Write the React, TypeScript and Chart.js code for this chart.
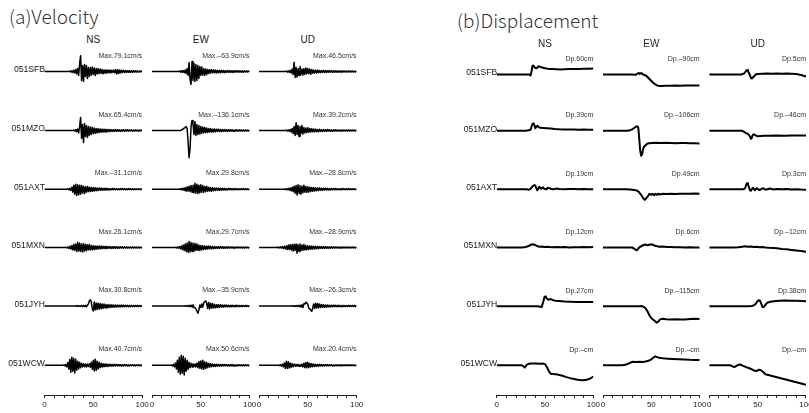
import React, { useEffect, useRef } from "react";
import { Chart, registerables } from "chart.js";
Chart.register(...registerables);

// ---------- labels ----------
const STATIONS = ["051SFB", "051MZO", "051AXT", "051MXN", "051JYH", "051WCW"];
const COMPONENTS = ["NS", "EW", "UD"];
const AXIS_TICKS = [0, 50, 100];

// peak velocity (cm/s) shown above each velocity trace
const VEL_PEAK = [
  [79.1, -63.9, 46.5],
  [65.4, -136.1, 39.2],
  [-31.1, 29.8, -28.8],
  [26.1, 29.7, -28.9],
  [30.8, -35.9, -26.3],
  [40.7, 50.6, 20.4],
];
// displacement (cm) shown above each displacement trace (null = "–")
const DSP_PEAK: (number | null)[][] = [
  [60, -90, 5],
  [39, -106, -46],
  [19, 49, 3],
  [12, 6, -12],
  [27, -115, 38],
  [null, null, null],
];

// ---------- velocity traces (cm/s), 1 s samples starting at onset (s) ----------
const VEL_ONSET = [
  [26, 28, 28],
  [30, 30, 28],
  [24, 28, 26],
  [22, 24, 18],
  [32, 34, 34],
  [20, 20, 20],
];
const VEL_SFB_NS = [2,-3,4,-5,6,-8,10,-12,15,-20, 40,79.1,-45,30,-50,35,-25,30,-35,20, -25,20,-18,22,-15,18,-20,15,-12,14, -10,12,-9,10,-12,8,-7,9,-8,7, -6,8,-7,6,-5,7,-6,10,-12,9, -10,8,-7,6,-5,6,-5,4,-5,4, -4,5,-4,3,-4,4,-3,4,-3,3, -3,3,-2,3,-2];
const VEL_SFB_EW = [2,-3,4,-4,5,-6,8,-10,15,-20, 45,-40,-63.9,50,-45,40,-50,35,-45,30, -35,25,-20,22,-18,15,-20,12,-15,10, -10,9,-8,10,-7,8,-6,7,-8,6, -6,5,-7,6,-5,5,-6,4,-5,5, -4,5,-4,4,-5,3,-4,4,-3,4, -3,4,-3,3,-4,3,-3,3,-2,3, -2,2,-2];
const VEL_SFB_UD = [2,-3,3,-4,6,-8,12,-15,46.5,-30, 20,-28,15,-20,25,-15,12,-18,14,-15, 18,-12,15,-10,12,-14,10,-9,8,-8, 6,-7,8,-6,5,-6,5,-4,6,-5, 4,-5,4,-4,5,-3,4,-4,3,-4, 4,-3,3,-4,3,-3,4,-3,3,-2, 3,-3,2,-3,3,-2,3,-2,2,-3, 2,-2,2];
const VEL_MZO_NS = [2,-3,4,-6,8,-12,20,65.4,-40,30, -60,35,-30,25,-35,20,-25,18,-20,15, -15,12,-14,10,-12,9,-10,8,-9,7, -8,6,-7,6,-6,5,-6,5,-5,4, -5,4,-4,5,-4,4,-4,3,-4,3, -3,4,-3,3,-3,4,-3,3,-2,3, -3,2,-3,3,-2,2,-3,2,-2,2,-2];
const VEL_MZO_EW = [2,5,8,12,15,20,10,-60,-136.1,-90, 20,50,35,-20,45,-25,30,-20,25,-18, 20,-15,18,-12,15,-10,12,-10,10,-8, 9,-8,7,-7,8,-6,6,-5,7,-5, 5,-6,5,-4,5,-4,4,-5,4,-4, 4,-3,4,-4,3,-3,4,-3,3,-3, 3,-3,2,-3,3,-2,2,-3,2,-2,2];
const VEL_MZO_UD = [2,-3,3,-4,5,-8,10,-15,20,-25, 39.2,-20,25,-30,20,-15,25,-18,15,-12, 12,-10,14,-9,10,-8,9,-7,8,-6, 7,-6,5,-6,6,-5,4,-5,5,-4, 4,-4,5,-3,4,-4,3,-4,3,-3, 4,-3,3,-3,2,-3,3,-2,3,-2, 2,-3,2,-2,3,-2,2,-2,2,-2,2,-2,2];
const VEL_AXT_NS = [2,-3,4,-6,10,-15,20,-25,25,-31.1, 22,-28,20,-25,18,-20,15,-22,12,-15, 14,-12,10,-12,9,-10,8,-9,7,-8, 6,-7,6,-5,6,-5,4,-5,4,-4, 4,-4,3,-4,3,-3,4,-3,3,-3, 3,-3,2,-3,3,-2,3,-2,2,-3, 2,-2,3,-2,2,-2,2,-3,2,-2, 2,-2,2,-2,2,-2,2];
const VEL_AXT_EW = [1,-2,3,-4,5,-6,8,-10,12,-10, 15,-12,18,-15,20,-18,29.8,-20,25,-22, 20,-18,22,-15,18,-16,14,-12,15,-10, 10,-9,8,-10,7,-8,6,-7,6,-5, 5,-6,4,-5,5,-4,4,-4,3,-4, 3,-3,4,-3,3,-3,3,-2,3,-3, 2,-3,2,-2,3,-2,2,-2,2,-2,2,-2,2];
const VEL_AXT_UD = [1,-2,2,-3,4,-5,6,-8,10,-12, 15,-20,18,-28.8,22,-20,18,-25,15,-18, 20,-15,14,-16,12,-14,10,-12,9,-10, 8,-9,7,-8,6,-7,6,-5,5,-6, 5,-4,5,-4,4,-4,3,-4,4,-3, 3,-3,4,-3,3,-3,2,-3,3,-2, 3,-2,2,-3,2,-2,3,-2,2,-2, 2,-2,2,-2,2];
const VEL_MXN_NS = [1,-2,3,-4,6,-8,10,-12,15,-14, 18,-20,26.1,-18,22,-20,18,-22,20,-18, 15,-16,14,-12,15,-12,10,-12,9,-10, 8,-9,8,-7,8,-6,7,-6,6,-5, 5,-6,5,-4,5,-4,4,-5,4,-4, 4,-3,4,-4,3,-3,4,-3,3,-3, 3,-2,3,-3,2,-3,2,-2,3,-2, 2,-2,2,-3,2,-2,2,-2,2];
const VEL_MXN_EW = [1,-2,3,-3,4,-6,8,-10,12,-15, 18,-20,22,-25,29.7,-22,25,-20,22,-18, 20,-15,18,-14,12,-15,10,-12,9,-10, 8,-9,7,-8,8,-6,6,-7,5,-6, 5,-5,4,-5,4,-4,5,-3,4,-4, 3,-4,3,-3,4,-3,3,-2,3,-3, 2,-3,2,-2,3,-2,2,-2,2,-3, 2,-2,2,-2,2,-2,2];
const VEL_MXN_UD = [1,-1,2,-2,3,-3,4,-5,6,-8, 8,-10,12,-10,14,-12,15,-18,16,-14, 18,-28.9,15,-20,18,-15,12,-14,15,-12, 10,-12,9,-10,8,-9,7,-8,6,-7, 6,-6,5,-6,5,-4,5,-5,4,-4, 4,-4,3,-4,3,-3,4,-3,3,-3, 3,-2,3,-3,2,-3,2,-2,3,-2, 2,-2,3,-2,2,-2,2,-2,2,-2,2,-2,2];
const VEL_JYH_NS = [1,-1,2,-2,1,-2,2,-3,3,-2, 3,-4,5,10,25,30.8,20,-15,-25,20, -20,15,-18,14,-15,12,-14,10,-12,10, -9,8,-10,7,-8,6,-7,6,-6,5, -6,5,-5,4,-5,4,-4,5,-4,4, -3,4,-3,3,-4,3,-3,3,-3,2, -3,2,-2,3,-2,2,-2,2,-2];
const VEL_JYH_EW = [1,-1,2,-2,3,-3,4,-5,6,-8, -8,-15,-25,-35.9,-20,5,-8,10,-6,15, 22,25,15,-12,18,-15,14,-10,12,-10, 8,-9,7,-8,6,-7,6,-5,5,-6, 5,-4,5,-4,4,-4,3,-4,4,-3, 3,-3,4,-3,3,-3,2,-3,3,-2, 2,-2,3,-2,2,-2,2];
const VEL_JYH_UD = [1,-1,1,-2,2,-2,3,-3,4,-5, 6,-8,12,10,18,15,8,-10,-15,-20, -26.3,-12,10,-12,14,-10,12,-9,10,-8, 7,-6,6,-7,5,-6,5,-5,4,-5, 4,-4,4,-3,4,-3,3,-4,3,-3, 3,-2,3,-3,2,-3,2,-2,3,-2, 2,-2,2,-2,3,-2,2];
const VEL_WCW_NS = [2,-3,5,-8,15,-20,30,-35,40.7,-30, 35,-38,30,-25,20,-18,15,-12,10,-8, 8,-7,6,-8,7,-6,8,-10,15,-20, 25,-28,30,-25,20,-18,15,-12,10,-9, 8,-7,6,-6,5,-6,5,-4,5,-4, 4,-4,5,-3,4,-3,4,-3,3,-4, 3,-3,4,-3,3,-3,2,-3,3,-2, 3,-2,3,-3,2,-2,3,-2,2,-2,2];
const VEL_WCW_EW = [2,-3,5,-8,12,-18,25,-35,40,-45, 50.6,-40,45,-48,35,-30,25,-20,15,-12, 10,-8,8,-7,6,-8,10,-12,18,-15, 22,-18,25,-20,18,-15,14,-12,10,-9, 8,-7,6,-6,5,-6,5,-4,5,-4, 4,-4,5,-3,4,-3,4,-3,3,-4, 3,-3,4,-3,3,-3,2,-3,3,-2, 3,-2,3,-3,2,-2,3,-2,2,-2,2];
const VEL_WCW_UD = [1,-2,3,-4,6,-8,12,-15,20.4,-15, 18,-14,12,-10,8,-7,6,-5,5,-4, 4,-5,4,-5,6,-8,10,-12,14,-12, 15,-12,10,-9,8,-7,6,-6,5,-5, 4,-4,5,-3,4,-4,3,-3,4,-3, 3,-3,3,-2,3,-3,2,-3,2,-2, 3,-2,2,-2,3,-2,2,-2,2,-2, 2,-2,2,-2,2,-1,2,-2,1,-2,2];

// ---------- displacement traces (cm), [time s, value] ----------
const DSP_SFB_NS = [[0,0],[34,0],[35,-10],[36,30],[37,85],[38,90],[39,75],[40,65],[41,62],[42,70],[43,80],[44,82],[45,75],[47,70],[50,62],[53,58],[57,55],[62,52],[66,50],[70,52],[75,55],[80,54],[85,56],[90,57],[95,58],[100,60]];
const DSP_SFB_EW = [[0,0],[30,0],[34,-2],[36,12],[37,16],[38,5],[39,12],[40,14],[41,2],[43,-5],[45,-15],[47,-35],[49,-55],[51,-75],[53,-92],[55,-105],[57,-112],[60,-114],[65,-112],[70,-113],[75,-111],[80,-112],[85,-110],[90,-111],[95,-109],[100,-110]];
const DSP_SFB_UD = [[0,0],[33,0],[36,10],[38,35],[39,45],[40,35],[42,-5],[43,-35],[44,-40],[46,-20],[48,0],[50,5],[55,8],[60,10],[65,8],[70,10],[75,8],[80,10],[85,7],[90,5],[95,-5],[100,-20]];
const DSP_MZO_NS = [[0,0],[30,0],[33,5],[35,10],[36,40],[37,70],[38,75],[39,55],[40,25],[41,40],[42,50],[43,40],[45,30],[48,28],[52,25],[56,22],[60,18],[65,15],[70,14],[75,12],[80,12],[85,11],[90,12],[95,10],[100,10]];
const DSP_MZO_EW = [[0,0],[25,0],[28,5],[31,20],[34,40],[35.5,45],[36.5,30],[37.5,-80],[38.5,-200],[39.5,-250],[40.5,-235],[41.5,-180],[42.5,-160],[44,-145],[46,-128],[50,-122],[55,-120],[60,-123],[65,-120],[70,-122],[75,-124],[80,-121],[85,-123],[90,-125],[95,-124],[100,-126]];
const DSP_MZO_UD = [[0,0],[34,0],[36,-10],[38,-25],[40,-30],[42,-55],[43,-80],[44,-70],[45,-40],[46,-35],[48,-45],[50,-55],[53,-52],[57,-50],[62,-50],[70,-48],[78,-50],[85,-47],[92,-48],[100,-46]];
const DSP_AXT_NS = [[0,0],[31,0],[33,-5],[35,5],[37,30],[39,43],[40,35],[41,10],[42,-10],[43,5],[44,25],[45,15],[46,5],[47,15],[48,20],[49,5],[51,0],[52,10],[54,15],[56,5],[58,0],[60,3],[62,8],[65,2],[70,0],[75,3],[80,2],[85,0],[90,2],[95,0],[100,0]];
const DSP_AXT_EW = [[0,0],[24,0],[28,-3],[32,-8],[35,-12],[37,-25],[39,-50],[41,-80],[43,-105],[44,-100],[45,-85],[47,-60],[48,-45],[50,-55],[51,-45],[53,-60],[54,-45],[56,-55],[57,-45],[59,-52],[62,-45],[66,-48],[70,-44],[75,-46],[80,-45],[85,-44],[90,-45],[95,-43],[100,-45]];
const DSP_AXT_UD = [[0,0],[35,0],[37,10],[38,40],[39,60],[40,50],[41,20],[42,-10],[43,-15],[44,0],[45,15],[46,5],[47,-10],[48,0],[49,10],[50,5],[52,-8],[54,5],[56,10],[58,-5],[60,0],[63,8],[66,-3],[70,3],[75,0],[80,2],[85,-2],[90,0],[95,-3],[100,-4]];
const DSP_MXN_NS = [[0,0],[26,0],[30,5],[33,15],[35,25],[37,33],[39,28],[41,18],[43,10],[45,7],[47,10],[49,5],[52,8],[55,5],[58,3],[62,6],[66,2],[70,4],[75,0],[80,3],[85,2],[90,4],[95,3],[100,5]];
const DSP_MXN_EW = [[0,0],[30,0],[32,-10],[34,-25],[35,-28],[36,-15],[38,5],[40,15],[42,25],[44,30],[46,22],[48,28],[50,32],[52,25],[54,18],[56,12],[58,8],[62,10],[66,4],[70,6],[75,2],[80,3],[85,0],[90,2],[95,0],[100,1]];
const DSP_MXN_UD = [[0,0],[25,0],[30,3],[34,8],[37,12],[40,8],[43,10],[46,5],[49,8],[52,2],[55,5],[58,0],[62,-3],[66,-5],[70,-8],[75,-14],[80,-18],[85,-24],[90,-30],[95,-36],[100,-42]];
const DSP_JYH_NS = [[0,0],[42,0],[45,-5],[46.5,-8],[48,40],[49.5,95],[50.5,100],[52,75],[53.5,65],[55,72],[56.5,70],[58,62],[61,55],[65,52],[70,48],[76,46],[82,44],[88,43],[94,42],[100,43]];
const DSP_JYH_EW = [[0,0],[38,0],[40,3],[42,-5],[44,-20],[46,-50],[48,-90],[50,-120],[52,-135],[54,-150],[55.5,-165],[57,-155],[58.5,-135],[60,-128],[62,-125],[65,-130],[70,-132],[75,-130],[80,-133],[85,-132],[90,-128],[95,-125],[100,-127]];
const DSP_JYH_UD = [[0,0],[40,0],[44,3],[47,15],[49,40],[51,60],[52.5,55],[54,20],[55,-8],[56.5,-5],[58,15],[60,35],[63,45],[67,50],[72,55],[78,57],[85,56],[90,55],[95,53],[100,50]];
const DSP_WCW_NS = [[0,0],[26,0],[27.5,-10],[29,-22],[31,5],[33,15],[36,17],[40,17],[45,16],[48,17],[50,12],[52,-20],[54,-60],[56,-85],[58,-88],[61,-90],[64,-95],[68,-105],[72,-118],[76,-128],[80,-137],[84,-145],[88,-150],[92,-148],[96,-135],[100,-112]];
const DSP_WCW_EW = [[0,0],[20,0],[24,8],[28,25],[31,35],[34,33],[38,36],[41,34],[44,38],[47,45],[50,60],[52,75],[54,90],[56,82],[58,75],[62,70],[67,66],[72,63],[78,60],[84,58],[90,55],[95,54],[100,53]];
const DSP_WCW_UD = [[0,0],[22,0],[24,-10],[26,-18],[28,-5],[30,5],[32,8],[35,-5],[40,-25],[44,-40],[47,-55],[49,-58],[51,-45],[53,-47],[56,-70],[58,-90],[62,-100],[68,-115],[74,-130],[80,-145],[86,-160],[92,-175],[96,-185],[100,-195]];

const VEL_TRACES = [
  [VEL_SFB_NS, VEL_SFB_EW, VEL_SFB_UD],
  [VEL_MZO_NS, VEL_MZO_EW, VEL_MZO_UD],
  [VEL_AXT_NS, VEL_AXT_EW, VEL_AXT_UD],
  [VEL_MXN_NS, VEL_MXN_EW, VEL_MXN_UD],
  [VEL_JYH_NS, VEL_JYH_EW, VEL_JYH_UD],
  [VEL_WCW_NS, VEL_WCW_EW, VEL_WCW_UD],
];
const DSP_TRACES = [
  [DSP_SFB_NS, DSP_SFB_EW, DSP_SFB_UD],
  [DSP_MZO_NS, DSP_MZO_EW, DSP_MZO_UD],
  [DSP_AXT_NS, DSP_AXT_EW, DSP_AXT_UD],
  [DSP_MXN_NS, DSP_MXN_EW, DSP_MXN_UD],
  [DSP_JYH_NS, DSP_JYH_EW, DSP_JYH_UD],
  [DSP_WCW_NS, DSP_WCW_EW, DSP_WCW_UD],
];

// ---------- layout (pixels) ----------
const BLOCKS = [
  { key: "vel", title: "(a)Velocity", titleX: 9, titleY: 4, x0: [44.5, 152, 259], w: 97.6, rows: [71.5, 130.5, 189.2, 247.5, 306, 365.3], headY: 40, range: 160, lw: 1.5, labelOff: 16.5 },
  { key: "dsp", title: "(b)Displacement", titleX: 457, titleY: 8, x0: [496.7, 603, 709.3], w: 96.7, rows: [74.5, 130.8, 189.3, 247.5, 306.3, 365.3], headY: 44, range: 320, lw: 2, labelOff: 16 },
];
const AXIS_Y = 395;
const HALF = 32;
const PAD = 10;
const SANS = "'Liberation Sans', Arial, Helvetica, sans-serif";

function velPoints(vals: number[], onset: number) {
  const pts = [{ x: 0, y: 0 }, { x: onset - 1, y: 0 }];
  vals.forEach((v, i) => pts.push({ x: onset + i, y: v }));
  return pts;
}
function dspPoints(pairs: number[][]) {
  return pairs.map(([x, y]) => ({ x, y }));
}

function box(ax: number, ay: number, aw: number, ah: number, extraBottom: number) {
  const left = Math.floor(ax - PAD);
  const top = Math.floor(ay - 2);
  const width = Math.ceil(ax + aw + PAD) - left;
  const height = Math.ceil(ay + ah + 2 + extraBottom) - top;
  const padL = ax - left;
  const padR = width - padL - aw;
  const padT = ay - top;
  const padB = height - padT - ah - extraBottom;
  return { left, top, width, height, padL, padR, padT, padB };
}

function Trace({ points, ax, ay, aw, ah, range, lw }: any) {
  const ref = useRef<HTMLCanvasElement>(null);
  const b = box(ax, ay, aw, ah, 0);
  useEffect(() => {
    const chart = new Chart(ref.current!, {
      type: "line",
      data: { datasets: [{ data: points, borderColor: "#000", borderWidth: lw, pointRadius: 0, tension: 0, fill: false, borderJoinStyle: "round" }] },
      options: {
        animation: false,
        responsive: false,
        events: [],
        layout: { padding: { left: b.padL, right: b.padR, top: b.padT, bottom: b.padB } },
        plugins: { legend: { display: false }, tooltip: { enabled: false } },
        scales: {
          x: { type: "linear", min: 0, max: 100, display: false },
          y: { type: "linear", min: -range, max: range, display: false },
        },
      },
    } as any);
    return () => chart.destroy();
  }, []);
  return <canvas ref={ref} width={b.width} height={b.height} style={{ position: "absolute", left: b.left, top: b.top, width: b.width, height: b.height }} />;
}

function Axis({ ax, aw }: any) {
  const ref = useRef<HTMLCanvasElement>(null);
  const AXH = 18;
  const b = box(ax, AXIS_Y - 4, aw, 4, AXH);
  useEffect(() => {
    const chart = new Chart(ref.current!, {
      type: "line",
      data: { datasets: [] },
      options: {
        animation: false,
        responsive: false,
        events: [],
        layout: { padding: { left: b.padL, right: b.padR, top: b.padT, bottom: b.padB } },
        plugins: { legend: { display: false }, tooltip: { enabled: false } },
        scales: {
          x: {
            type: "linear", min: 0, max: 100, position: "bottom",
            border: { display: true, color: "#222", width: 1 },
            grid: { drawOnChartArea: false, drawTicks: true, tickLength: 3, color: "#222" },
            ticks: {
              stepSize: 10, autoSkip: false, maxRotation: 0, padding: 2, color: "#222",
              font: { family: SANS, size: 8 },
              callback: (v: any) => (AXIS_TICKS.includes(v) ? String(v) : ""),
            },
            afterFit: (s: any) => { s.height = AXH; },
          },
          y: { type: "linear", min: 0, max: 1, display: false },
        },
      },
    } as any);
    return () => chart.destroy();
  }, []);
  return <canvas ref={ref} width={b.width} height={b.height} style={{ position: "absolute", left: b.left, top: b.top, width: b.width, height: b.height }} />;
}

function fmt(v: number | null) {
  if (v === null) return "–";
  return (v < 0 ? "–" : "") + String(Math.abs(v));
}

function Text({ x, y, align, size, color, children, family }: any) {
  const W = 300;
  const left = align === "right" ? x - W : align === "center" ? x - W / 2 : x;
  return (
    <div style={{ position: "absolute", left, top: y - size / 2, width: W, height: size, lineHeight: size + "px", fontSize: size, textAlign: align, color, fontFamily: family || SANS, whiteSpace: "nowrap" }}>
      {children}
    </div>
  );
}

export default function App() {
  const items: any[] = [];
  BLOCKS.forEach((bl, bi) => {
    items.push(
      <div key={bl.key + "t"} style={{ position: "absolute", left: bl.titleX, top: bl.titleY, fontFamily: "'Noto Sans CJK JP', 'Noto Sans', sans-serif", fontWeight: 300, fontSize: 19, lineHeight: "24px", color: "#333", whiteSpace: "nowrap" }}>
        {bl.title}
      </div>
    );
    COMPONENTS.forEach((c, ci) => {
      items.push(<Text key={bl.key + "h" + ci} x={bl.x0[ci] + bl.w / 2} y={bl.headY} align="center" size={10} color="#222">{c}</Text>);
      items.push(<Axis key={bl.key + "a" + ci} ax={bl.x0[ci]} aw={bl.w} />);
    });
    STATIONS.forEach((st, ri) => {
      const row = bl.rows[ri];
      items.push(<Text key={bl.key + "s" + ri} x={bl.x0[0] + 0.5} y={row - 2} align="right" size={8.6} color="#222">{st}</Text>);
      COMPONENTS.forEach((c, ci) => {
        const pts = bi === 0 ? velPoints(VEL_TRACES[ri][ci], VEL_ONSET[ri][ci]) : dspPoints(DSP_TRACES[ri][ci]);
        const label = bi === 0 ? `Max.${fmt(VEL_PEAK[ri][ci])}cm/s` : `Dp.${fmt(DSP_PEAK[ri][ci])}cm`;
        items.push(<Text key={bl.key + "m" + ri + ci} x={bl.x0[ci] + bl.w} y={row - bl.labelOff} align="right" size={7} color="#333">{label}</Text>);
        items.push(<Trace key={bl.key + "p" + ri + ci} points={pts} ax={bl.x0[ci]} ay={row - HALF} aw={bl.w} ah={HALF * 2} range={bl.range} lw={bl.lw} />);
      });
    });
  });
  return <div style={{ position: "absolute", left: 0, top: 0, width: 809, height: 413, background: "#fff", overflow: "hidden" }}>{items}</div>;
}
